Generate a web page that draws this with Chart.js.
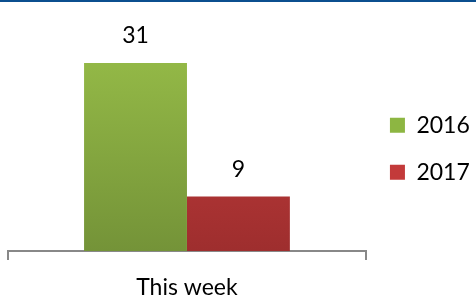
<!DOCTYPE html>
<html>
<head>
<meta charset="utf-8">
<script src="https://cdn.jsdelivr.net/npm/chart.js@4"></script>
<style>
  html, body { margin: 0; padding: 0; background: #fff; }
  #wrap { width: 476px; height: 299px; position: relative; }
</style>
</head>
<body>
<div id="wrap"><canvas id="bars"></canvas></div>
<script>
const categories = ['This week'];
const seriesNames = ['2016', '2017'];
const values2016 = [31];
const values2017 = [9];

let canvasone, chartone;

function grad(ctx, area, top, bottom) {
    if (!area) return top;
    const g = ctx.createLinearGradient(0, area.top, 0, area.bottom);
    g.addColorStop(0, top);
    g.addColorStop(1, bottom);
    return g;
}

// value labels above the bars + the blue strip at the top
const extras = {
    id: 'extras',
    afterDraw(chart) {
        const ctx = chart.ctx;
        ctx.save();
        ctx.fillStyle = '#0b4f8f';
        ctx.fillRect(0, 0, chart.width, 2);
        ctx.font = '23px Lato';
        ctx.fillStyle = '#000';
        ctx.textAlign = 'center';
        ctx.textBaseline = 'middle';
        chart.data.datasets.forEach((ds, i) => {
            chart.getDatasetMeta(i).data.forEach((bar, j) => {
                ctx.fillText(ds.data[j], bar.x, bar.y - 27);
            });
        });
        ctx.restore();
    }
};

function init() {
    canvasone = document.getElementById('bars');
    chartone = canvasone.getContext('2d');
    createBars();
}

function createBars() {
    new Chart(chartone, {
        type: 'bar',
        data: {
            labels: categories,
            datasets: [{
                label: seriesNames[0],
                data: values2016,
                backgroundColor: c => grad(c.chart.ctx, c.chart.chartArea, '#9dc44b', '#749338'),
                borderWidth: 0
            }, {
                label: seriesNames[1],
                data: values2017,
                backgroundColor: c => grad(c.chart.ctx, c.chart.chartArea, '#d44343', '#9e2e2e'),
                borderWidth: 0
            }]
        },
        options: {
            responsive: true,
            maintainAspectRatio: false,
            animation: false,
            datasets: { bar: { categoryPercentage: 0.575, barPercentage: 1 } },
            layout: { padding: { left: 8, top: -17, bottom: -15.4, right: -3.8 } },
            scales: {
                x: {
                    grid: { offset: true, drawOnChartArea: false, color: '#888', lineWidth: 2, tickLength: 9 },
                    border: { display: true, color: '#888', width: 2 },
                    ticks: { color: '#000', font: { family: 'Lato', size: 23 }, padding: 13.4 }
                },
                y: { display: false, min: 0, max: 41.4 }
            },
            plugins: {
                legend: {
                    position: 'right',
                    labels: {
                        boxWidth: 15,
                        boxHeight: 15,
                        padding: 24,
                        color: '#000',
                        font: { family: 'Lato', size: 23 },
                        generateLabels: chart => chart.data.datasets.map((ds, i) => ({
                            text: ds.label,
                            fillStyle: i === 0 ? '#8db642' : '#c33a3a',
                            strokeStyle: 'transparent',
                            lineWidth: 0,
                            datasetIndex: i
                        }))
                    }
                },
                tooltip: { enabled: false }
            }
        },
        plugins: [extras]
    });
}

document.addEventListener('DOMContentLoaded', init);
</script>
</body>
</html>
